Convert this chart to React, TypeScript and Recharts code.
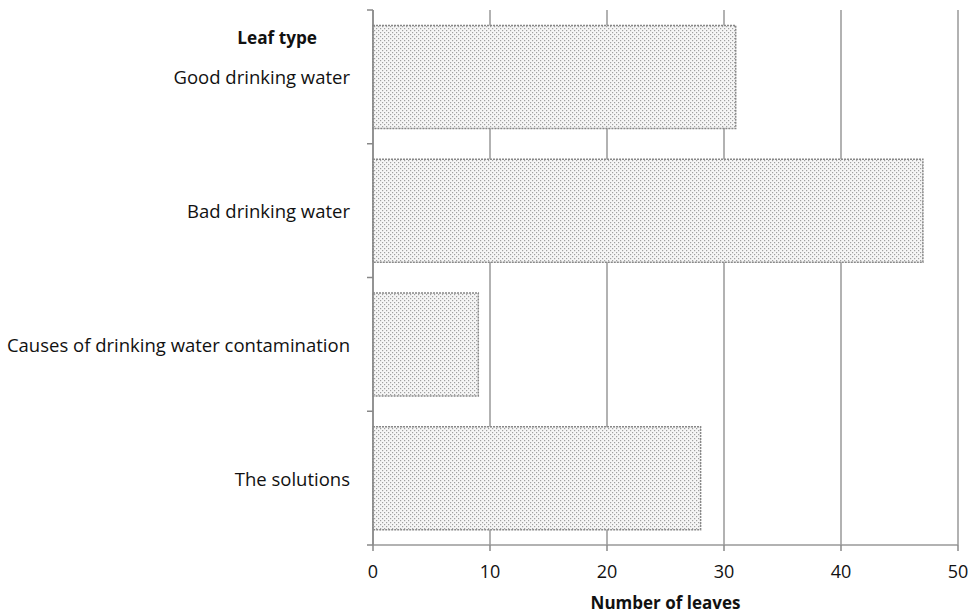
import React from 'react';
import { BarChart, Bar, XAxis, YAxis, CartesianGrid } from 'recharts';

// leaf categories and counts
const categories = [
  'Good drinking water',
  'Bad drinking water',
  'Causes of drinking water contamination',
  'The solutions',
];
const leafCounts = [31, 47, 9, 28];
const xTicks = [0, 10, 20, 30, 40, 50];

const chartData = categories.map((name, i) => ({ name, leaves: leafCounts[i] }));

const W = 970;
const H = 613;
const MARGIN = { top: 10, right: 12, left: 0, bottom: 0 };
const Y_AXIS_W = 373;
const X_AXIS_H = 68;
const FONT = '"Open Sans", sans-serif';
const bandSize = (H - MARGIN.top - MARGIN.bottom - X_AXIS_H) / categories.length;

const CategoryTick = (props: any) => {
  const { x, y, payload, index } = props;
  const axisX = x + 6 + 17;
  return (
    <g>
      {/* tick marks sit on the category boundaries, not the centres */}
      <line x1={axisX - 6} x2={axisX} y1={y - bandSize / 2} y2={y - bandSize / 2} stroke="#888" strokeWidth={1.5} />
      {index === categories.length - 1 && (
        <line x1={axisX - 6} x2={axisX} y1={y + bandSize / 2} y2={y + bandSize / 2} stroke="#888" strokeWidth={1.5} />
      )}
      {index === 0 && (
        <text x={x - 33} y={y - 39} textAnchor="end" dominantBaseline="central" fontFamily={FONT} fontSize={17.2} fontWeight="bold" fill="#111">
          Leaf type
        </text>
      )}
      <text x={x} y={y} textAnchor="end" dominantBaseline="central" fontFamily={FONT} fontSize={18.5} fill="#111">
        {payload.value}
      </text>
    </g>
  );
};

export default function App() {
  return (
    <div style={{ position: 'absolute', left: 0, top: 0, background: '#fff' }}>
      <BarChart
        width={W}
        height={H}
        data={chartData}
        layout="vertical"
        margin={MARGIN}
        barCategoryGap="11.5%"
      >
        <defs>
          <pattern id="dots" width="4" height="4" patternUnits="userSpaceOnUse">
            <rect width="4" height="4" fill="#f6f6f6" />
            <rect x="0" y="0" width="1.2" height="1.2" fill="#a0a0a0" />
            <rect x="2" y="2" width="1.2" height="1.2" fill="#a0a0a0" />
          </pattern>
        </defs>
        <CartesianGrid horizontal={false} vertical stroke="#999" strokeWidth={1.5} />
        <XAxis
          type="number"
          domain={[0, 50]}
          ticks={xTicks}
          height={X_AXIS_H}
          tickSize={6}
          tickMargin={14}
          axisLine={{ stroke: '#999', strokeWidth: 1.5 }}
          tickLine={{ stroke: '#888', strokeWidth: 1.5 }}
          tick={{ fontFamily: FONT, fontSize: 18, fill: '#111' }}
          label={{
            value: 'Number of leaves',
            position: 'insideBottom',
            offset: 4,
            fontFamily: FONT,
            fontSize: 17,
            fontWeight: 'bold',
            fill: '#111',
          }}
        />
        <YAxis
          type="category"
          dataKey="name"
          width={Y_AXIS_W}
          tickSize={6}
          tickMargin={17}
          tickLine={false}
          axisLine={{ stroke: '#888', strokeWidth: 1.5 }}
          tick={<CategoryTick />}
          interval={0}
        />
        <Bar
          dataKey="leaves"
          fill="url(#dots)"
          stroke="#888"
          strokeWidth={1.5}
          strokeDasharray="2 1"
          isAnimationActive={false}
        />
      </BarChart>
    </div>
  );
}
